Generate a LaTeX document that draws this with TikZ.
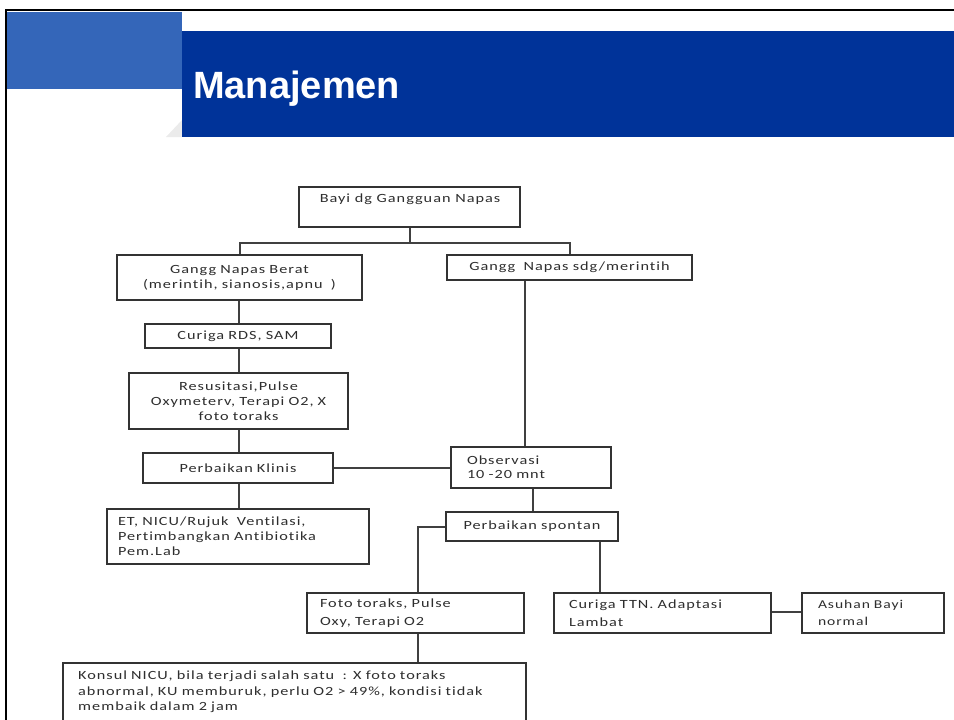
\documentclass[tikz,border=0pt]{standalone}
\usepackage{fontspec}
\setmainfont{Carlito}[FakeStretch=1.3,LetterSpace=8,Ligatures={NoCommon}]
\newfontfamily\titlefont{Liberation Sans}
\definecolor{boxc}{HTML}{333333}
\definecolor{linec}{HTML}{404040}
\definecolor{txtc}{HTML}{2E2E2E}
\definecolor{lightblue}{HTML}{3466B9}
\definecolor{darkblue}{HTML}{003399}
\definecolor{shadowgray}{HTML}{EBEBEB}
\begin{document}
\begin{tikzpicture}[x=1pt,y=-1pt,
  box/.style={draw=boxc, line width=1.4pt, fill=white, inner sep=0pt,
    font=\fontsize{12.5}{15}\selectfont, text=txtc},
  ctext/.style={align=center},
  ltext/.style={align=left},
  link/.style={draw=linec, line width=2pt},
  ]
\useasboundingbox (0,0) rectangle (954,720);
\begin{scope}
\clip (0,0) rectangle (954,720);
% header
\fill[lightblue] (7,12) rectangle (182,89);
\fill[shadowgray] (166,137) -- (182,137) -- (182,120) -- cycle;
\fill[darkblue] (182,31) rectangle (954,137);
\draw[line width=2pt, black] (6,721) -- (6,10) -- (955,10);
\node[anchor=base west, text=white, inner sep=0pt,
  font=\titlefont\bfseries\fontsize{38}{40}\selectfont] (title) at (193,98) {Manajemen};

% boxes
\node[box, minimum width=221pt, minimum height=40pt] (bayi) at (409.5,207) {};
\node[font=\fontsize{12.5}{15}\selectfont, text=txtc, inner sep=0pt] (bayiT) at (410,199) {Bayi dg Gangguan Napas};

\node[box, ctext, minimum width=245pt, minimum height=45pt, text width=235pt] (berat) at (239.5,277.5)
  {Gangg Napas Berat\\(merintih, sianosis,apnu\ \ )};
\node[box, ctext, minimum width=245pt, minimum height=25pt, text width=235pt] (sdg) at (569.5,267.5)
  {Gangg\ \ Napas sdg/merintih};
\node[box, ctext, minimum width=186pt, minimum height=24pt, text width=176pt] (rds) at (238,336)
  {Curiga RDS, SAM};
\node[box, ctext, minimum width=219pt, minimum height=56pt, text width=209pt] (resus) at (238.5,401)
  {Resusitasi,Pulse\\Oxymeterv, Terapi O2, X\\foto toraks};
\node[box, ctext, minimum width=190pt, minimum height=30pt, text width=180pt] (klinis) at (238,468)
  {Perbaikan Klinis\\[3pt]};
\node[box, ltext, minimum width=262pt, minimum height=55pt, text width=240pt] (et) at (238,536.5)
  {ET, NICU/Rujuk\ \ Ventilasi,\\Pertimbangkan Antibiotika\\Pem.Lab};
\node[box, ltext, minimum width=160pt, minimum height=41pt, text width=128pt,
  font=\fontsize{12.5}{14}\selectfont] (obs) at (531,467.5)
  {Observasi\\10 -20 mnt\\[4pt]};
\node[box, ctext, minimum width=172pt, minimum height=29pt, text width=162pt] (spont) at (532,526.5)
  {Perbaikan spontan};
\node[box, ltext, minimum width=217pt, minimum height=40pt, text width=191pt,
  font=\fontsize{12.5}{18}\selectfont] (foto) at (415.5,613)
  {Foto toraks, Pulse\\Oxy, Terapi O2};
\node[box, ltext, minimum width=217pt, minimum height=40pt, text width=187pt,
  font=\fontsize{12.5}{18}\selectfont] (ttn) at (662.5,613)
  {Curiga TTN. Adaptasi\\Lambat};
\node[box, ltext, minimum width=142pt, minimum height=40pt, text width=110pt,
  font=\fontsize{12}{17}\selectfont] (asuhan) at (873,613)
  {Asuhan Bayi\\normal\\[6pt]};
\node[box, minimum width=463pt, minimum height=77pt] (konsul) at (294.5,701.5) {};
\node[anchor=north west, align=left, text width=445pt, inner sep=0pt, text=txtc,
  font=\fontsize{12.5}{15.5}\selectfont] (konsulT) at (78,671)
  {Konsul NICU, bila terjadi salah satu\ \ : X foto toraks\\abnormal, KU memburuk, perlu O2 > 49\%, kondisi tidak\\membaik dalam 2 jam};

% connectors
\coordinate (split) at (409.5,243);
\draw[link] (bayi.south) -- (split);
\draw[link] (berat.north) |- (split) -| (sdg.north);
\draw[link] (berat.south -| 239,0) -- (rds.north -| 239,0);
\draw[link] (rds.south -| 239,0) -- (resus.north -| 239,0);
\draw[link] (resus.south -| 239,0) -- (klinis.north -| 239,0);
\draw[link] (klinis.south -| 239,0) -- (et.north -| 239,0);
\draw[link] (sdg.south -| 525,0) -- (obs.north -| 525,0);
\draw[link] (klinis.east) -- (obs.west |- klinis.east);
\draw[link] (obs.south -| 533,0) -- (spont.north -| 533,0);
\draw[link] (spont.west) -| (foto.north -| 418,0);
\draw[link] (spont.south -| 600,0) -- (ttn.north -| 600,0);
\draw[link] (ttn.east |- 0,612) -- (asuhan.west |- 0,612);
\draw[link] (foto.south -| 418,0) -- (konsul.north -| 418,0);
\end{scope}
\end{tikzpicture}
\end{document}
